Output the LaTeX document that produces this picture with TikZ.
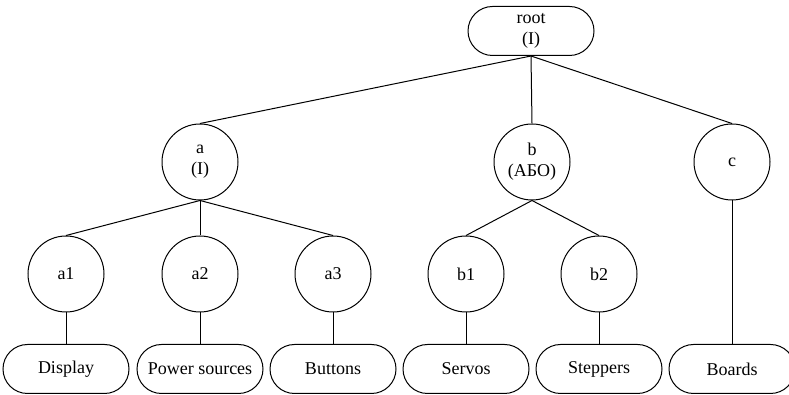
\documentclass[tikz,border=0pt]{standalone}
\usepackage{fontspec}
\setmainfont{Liberation Serif}
\usetikzlibrary{shapes.misc}
\tikzset{vertex/.style={circle, draw=black, minimum size=76pt, inner sep=0pt, align=center, font=\fontsize{18}{21}\selectfont},
leaf/.style={rounded rectangle, draw=black, minimum width=126pt, minimum height=49pt, inner sep=0pt, align=center, font=\fontsize{18}{21}\selectfont},
edge/.style={draw=black}}

\begin{document}
\begin{tikzpicture}[x=1pt,y=1pt,line width=1pt]
\useasboundingbox (0,0) rectangle (789,395);
% top
\node[leaf] (root) at (531,364) {root\\(I)};

% second level
\node[vertex] (a) at (200,233) {a\\(I)};
\node[vertex] (b) at (532,233) {b\\(АБО)};
\node[vertex] (c) at (732,233) {c};

% third level
\node[vertex] (a1) at (66,121) {a1};
\node[vertex] (a2) at (200,121) {a2};
\node[vertex] (a3) at (333,121) {a3};
\node[vertex] (b1) at (466,121) {b1};
\node[vertex] (b2) at (599,121) {b2};

% leaves
\node[leaf] (display) at (66,26) {Display};
\node[leaf] (power) at (200,26) {Power sources};
\node[leaf] (buttons) at (333,26) {Buttons};
\node[leaf] (servos) at (466,26) {Servos};
\node[leaf] (steppers) at (599,26) {Steppers};
\node[leaf] (boards) at (732,26) {Boards};

% edges
\foreach \child in {a,b,c}
     \draw[edge] (root.south) -- (\child.north);
\foreach \child in {a1,a2,a3}
     \draw[edge] (a.south) -- (\child.north);
\foreach \child in {b1,b2}
     \draw[edge] (b.south) -- (\child.north);
\foreach \node/\leaf in {a1/display,a2/power,a3/buttons,b1/servos,b2/steppers,c/boards}
     \draw[edge] (\node.south) -- (\leaf.north);

\end{tikzpicture}
\end{document}
